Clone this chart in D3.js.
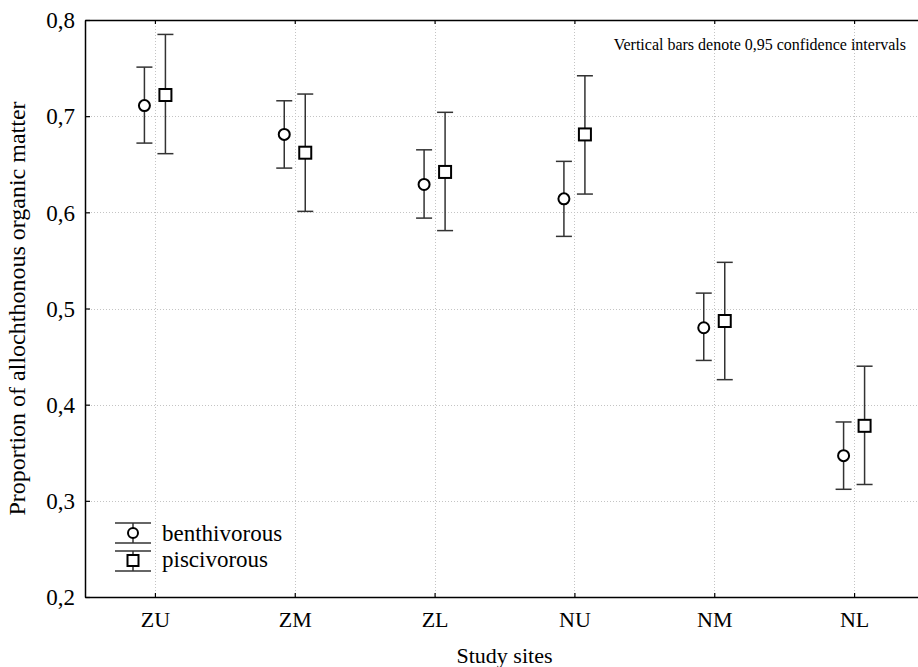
<!DOCTYPE html>
<html>
<head>
<meta charset="utf-8">
<script src="https://cdn.jsdelivr.net/npm/d3@7"></script>
<style>
  html, body { margin: 0; padding: 0; background: #fff; }
  svg { display: block; font-family: "Liberation Serif", "Times New Roman", serif; }
</style>
</head>
<body>
<svg id="chart" width="918" height="667"></svg>
<script>
// ---- data ----
const categories = ["ZU", "ZM", "ZL", "NU", "NM", "NL"];
const seriesNames = ["benthivorous", "piscivorous"];
const benthMean = [0.711, 0.681, 0.629, 0.614, 0.480, 0.347];
const benthLow  = [0.672, 0.646, 0.594, 0.575, 0.446, 0.312];
const benthHigh = [0.751, 0.716, 0.665, 0.653, 0.516, 0.382];
const piscMean  = [0.722, 0.662, 0.642, 0.681, 0.487, 0.378];
const piscLow   = [0.661, 0.601, 0.581, 0.619, 0.426, 0.317];
const piscHigh  = [0.785, 0.723, 0.704, 0.742, 0.548, 0.440];
const yTicks = [0.2, 0.3, 0.4, 0.5, 0.6, 0.7, 0.8];
const xLabel = "Study sites";
const yLabel = "Proportion of allochthonous organic matter";
const note = "Vertical bars denote 0,95 confidence intervals";

(function () {
// ---- layout ----
const W = 918, H = 667;
const mLeft = 85, mTop = 20, mBottom = 597, mRight = 924; // right edge clipped by picture
const svg = d3.select("#chart");

const x = d3.scalePoint().domain(categories).range([mLeft, mRight]).padding(0.5);
const off = d3.scalePoint().domain(seriesNames).range([-10.5, 10.5]);
const y = d3.scaleLinear().domain([0.2, 0.8]).range([mBottom, mTop]);
const locale = d3.formatLocale({decimal: ",", thousands: " ", grouping: [3], currency: ["", ""]});
const fmt = locale.format(".1f");

// gridlines
const grid = svg.append("g").attr("stroke", "#c4c4c4").attr("stroke-width", 1).attr("stroke-dasharray", "1,2");
grid.selectAll("line.h").data(yTicks.filter(t => t > 0.2 && t < 0.8)).join("line")
  .attr("x1", mLeft).attr("x2", W).attr("y1", d => Math.round(y(d)) + 0.5).attr("y2", d => Math.round(y(d)) + 0.5);
grid.selectAll("line.v").data(categories).join("line")
  .attr("x1", d => Math.round(x(d)) + 0.5).attr("x2", d => Math.round(x(d)) + 0.5).attr("y1", mTop).attr("y2", mBottom);

// axes
const yAxis = d3.axisLeft(y).tickValues(yTicks).tickFormat(fmt).tickSizeInner(-5).tickSizeOuter(0).tickPadding(10);
const gy = svg.append("g").attr("transform", `translate(${mLeft},0)`).call(yAxis);
gy.select(".domain").attr("stroke", "#000").attr("stroke-width", 1.5);
gy.selectAll(".tick line").attr("stroke", "#000").attr("stroke-width", 1.2);
gy.selectAll(".tick text").attr("font-family", "Liberation Serif").attr("font-size", 23).attr("fill", "#000").attr("dy", "0.34em");

const xAxis = d3.axisBottom(x).tickSizeInner(-4).tickSizeOuter(0).tickPadding(14);
const gx = svg.append("g").attr("transform", `translate(0,${mBottom})`).call(xAxis);
gx.select(".domain").attr("stroke", "#000").attr("stroke-width", 1.5);
gx.selectAll(".tick line").attr("stroke", "#000").attr("stroke-width", 1.2);
gx.selectAll(".tick text").attr("font-family", "Liberation Serif").attr("font-size", 22).attr("fill", "#000");

const xTop = d3.axisTop(x).tickSizeInner(-4).tickSizeOuter(0).tickFormat("");
const gt = svg.append("g").attr("transform", `translate(0,${mTop})`).call(xTop);
gt.select(".domain").attr("stroke", "#000").attr("stroke-width", 1.5);
gt.selectAll(".tick line").attr("stroke", "#000").attr("stroke-width", 1.2);

// axis titles
svg.append("text").attr("x", (mLeft + mRight) / 2).attr("y", 663).attr("text-anchor", "middle")
  .attr("font-size", 22).text(xLabel);
svg.append("text").attr("transform", `translate(25,${(mTop + mBottom) / 2}) rotate(-90)`)
  .attr("text-anchor", "middle").attr("font-size", 24).text(yLabel);
svg.append("text").attr("x", 906).attr("y", 50).attr("text-anchor", "end")
  .attr("font-size", 16).text(note);

// series
const series = [
  {name: "benthivorous", mean: benthMean, low: benthLow, high: benthHigh, shape: "circle"},
  {name: "piscivorous", mean: piscMean, low: piscLow, high: piscHigh, shape: "square"}
];
const cap = 8;
series.forEach(s => {
  const g = svg.append("g");
  const rows = categories.map((c, i) => ({c, m: s.mean[i], lo: s.low[i], hi: s.high[i]}));
  const cx = d => x(d.c) + off(s.name);
  g.selectAll("line.bar").data(rows).join("line")
    .attr("x1", cx).attr("x2", cx).attr("y1", d => y(d.lo)).attr("y2", d => y(d.hi))
    .attr("stroke", "#333").attr("stroke-width", 1.5);
  ["lo", "hi"].forEach(k => {
    g.selectAll("line.cap" + k).data(rows).join("line")
      .attr("x1", d => cx(d) - cap).attr("x2", d => cx(d) + cap)
      .attr("y1", d => y(d[k])).attr("y2", d => y(d[k]))
      .attr("stroke", "#333").attr("stroke-width", 1.5);
  });
  if (s.shape === "circle") {
    g.selectAll("circle").data(rows).join("circle")
      .attr("cx", cx).attr("cy", d => y(d.m)).attr("r", 5.5)
      .attr("fill", "#fff").attr("stroke", "#000").attr("stroke-width", 2);
  } else {
    g.selectAll("rect").data(rows).join("rect")
      .attr("x", d => cx(d) - 6).attr("y", d => y(d.m) - 6).attr("width", 12).attr("height", 12)
      .attr("fill", "#fff").attr("stroke", "#000").attr("stroke-width", 2);
  }
});

// legend
const lg = svg.append("g");
const legendItems = [
  {name: seriesNames[0], shape: "circle", yc: 533, t1: 523, t2: 543, ty: 541},
  {name: seriesNames[1], shape: "square", yc: 560.5, t1: 551, t2: 571, ty: 567}
];
const lx = 133;
legendItems.forEach(it => {
  lg.append("line").attr("x1", lx).attr("x2", lx).attr("y1", it.t1).attr("y2", it.t2).attr("stroke", "#333").attr("stroke-width", 1.5);
  [it.t1, it.t2].forEach(yy => lg.append("line").attr("x1", lx - 18).attr("x2", lx + 18).attr("y1", yy).attr("y2", yy).attr("stroke", "#333").attr("stroke-width", 1.5));
  if (it.shape === "circle") {
    lg.append("circle").attr("cx", lx).attr("cy", it.yc).attr("r", 5).attr("fill", "#fff").attr("stroke", "#000").attr("stroke-width", 2);
  } else {
    lg.append("rect").attr("x", lx - 5.5).attr("y", it.yc - 5.5).attr("width", 11).attr("height", 11).attr("fill", "#fff").attr("stroke", "#000").attr("stroke-width", 2);
  }
  lg.append("text").attr("x", 162).attr("y", it.ty).attr("font-size", 23).text(it.name);
});
})();
</script>
</body>
</html>
